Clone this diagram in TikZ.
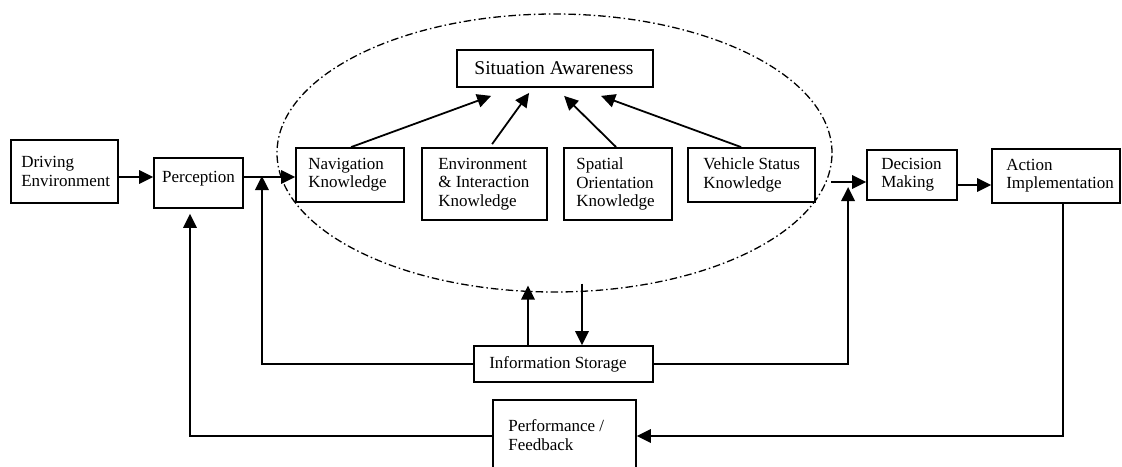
\documentclass[tikz,border=0pt]{standalone}
\usepackage{fontspec}
\setmainfont{Liberation Serif}
\usetikzlibrary{arrows.meta,shapes.geometric,calc}
\begin{document}
\begin{tikzpicture}[x=1pt,y=-1pt,
  box/.style={draw, line width=1.8pt, inner sep=0pt},
  lbl/.style={inner sep=0pt, align=left, font=\fontsize{17}{18.3}\selectfont},
  link/.style={line width=1.8pt},
  arr/.style={link, -{Triangle[length=14pt,width=13.5pt]}},
  region/.style={ellipse, draw, line width=1.3pt,
    dash pattern=on 7.5pt off 3pt on 1.5pt off 3pt, inner sep=0pt}
]
\useasboundingbox (0,0) rectangle (1122,466);
\clip (0,0) rectangle (1122,466);

% dash-dotted region enclosing the awareness components
\node[region, minimum width=555pt, minimum height=278pt] (aware) at (554.5,153) {};

% boxes
\node[box, minimum width=107pt, minimum height=63pt] (drv) at (64.5,171.5) {};
\node[lbl, anchor=west] (drvt) at ([xshift=11pt]drv.west) {Driving\\Environment};

\node[box, minimum width=89pt, minimum height=50pt] (per) at (198.5,183) {};
\node[lbl] (pert) at ([yshift=4pt]per.center) {Perception};

\node[box, minimum width=196pt, minimum height=37pt] (sa) at (555,68.5) {};
\node[lbl, font=\fontsize{19.5}{20}\selectfont] (sat) at ([xshift=-1pt]sa.center) {Situation Awareness};

\node[box, minimum width=108pt, minimum height=54pt] (nav) at (350,175) {};
\node[lbl, anchor=west] (navt) at ([xshift=13pt]nav.west) {Navigation\\Knowledge};

\node[box, minimum width=125pt, minimum height=72pt] (env) at (484.5,184) {};
\node[lbl, anchor=west] (envt) at ([xshift=17pt]env.west) {Environment\\\&~Interaction\\Knowledge};

\node[box, minimum width=108pt, minimum height=72pt] (sp) at (618,184) {};
\node[lbl, anchor=west] (spt) at ([xshift=13pt]sp.west) {Spatial\\Orientation\\Knowledge};

\node[box, minimum width=127pt, minimum height=54pt] (veh) at (751.5,175) {};
\node[lbl, anchor=west] (veht) at ([xshift=16pt]veh.west) {Vehicle Status\\Knowledge};

\node[box, minimum width=90pt, minimum height=50pt] (dec) at (912,175) {};
\node[lbl, anchor=west] (dect) at ([xshift=15pt]dec.west) {Decision\\Making};

\node[box, minimum width=128pt, minimum height=54pt] (act) at (1056,176) {};
\node[lbl, anchor=west] (actt) at ([xshift=15pt]act.west) {Action\\Implementation};

\node[box, minimum width=179pt, minimum height=36pt] (info) at (563.5,364) {};
\node[lbl, anchor=west] (infot) at ([xshift=16pt]info.west) {Information Storage};

\node[box, minimum width=143pt, minimum height=72pt] (perf) at (564.5,436) {};
\node[lbl, anchor=west] (perft) at ([xshift=16pt,yshift=1pt]perf.west) {Performance /\\Feedback};

% junction points and free ends of connectors
\coordinate (j1) at ([xshift=18pt,yshift=6pt]per.east);
\coordinate (j2) at ([xshift=-18pt,yshift=-7pt]dec.west);
\coordinate (vout) at ([xshift=-35pt,yshift=-7pt]dec.west);
\coordinate (up) at ([xshift=-26.5pt,yshift=7pt]aware.south);
\coordinate (down) at ([xshift=27.5pt,yshift=9pt]aware.south);

% main flow
\draw[arr] ([yshift=-5.5pt]drv.east) -- ([yshift=6pt]per.west);
\draw[arr] ([yshift=6pt]per.east) -- ([yshift=6pt]per.east -| nav.west);
\draw[arr] (vout) -- ([yshift=-7pt]dec.west);
\draw[arr] ([yshift=-10pt]dec.east) -- ([yshift=-10pt]dec.east -| act.west);

% knowledge components feeding situation awareness
\draw[arr] ([xshift=56pt]nav.north west) -- ([xshift=35pt,yshift=-8pt]sa.south west);
\draw[arr] ([xshift=71pt,yshift=3pt]env.north west) -- ([xshift=73pt,yshift=-5pt]sa.south west);
\draw[arr] ([xshift=53pt]sp.north west) -- ([xshift=108pt,yshift=-8pt]sa.south west);
\draw[arr] ([xshift=54pt]veh.north west) -- ([xshift=145pt,yshift=-8pt]sa.south west);

% information storage exchanges
\draw[arr] (up |- info.north) -- (up);
\draw[arr] (down) -- (down |- info.north);
\draw[arr, shorten >=-1pt] (info.west) -| (j1);
\draw[arr, shorten >=5pt] (info.east) -| (j2);

% feedback loop
\draw[arr] ([xshift=7pt]act.south) |- (perf.east);
\draw[arr, shorten >=5pt] (perf.west) -| ([xshift=-8.5pt]per.south);
\end{tikzpicture}
\end{document}
